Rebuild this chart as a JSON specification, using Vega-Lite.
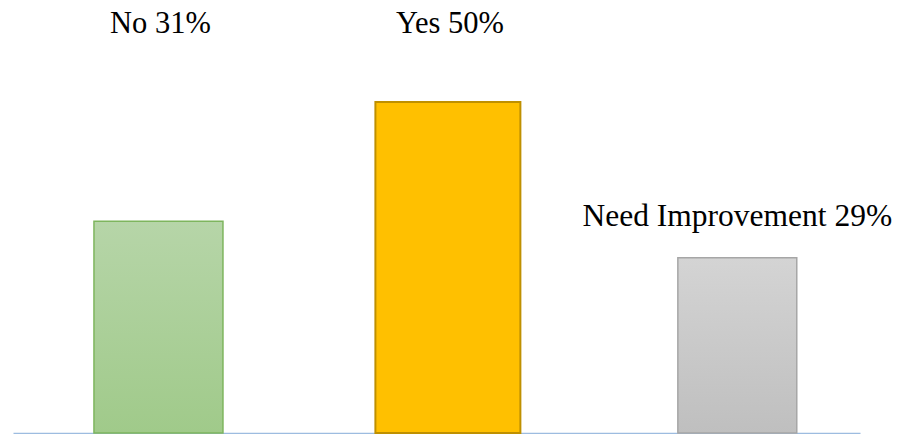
{
  "$schema": "https://vega.github.io/schema/vega-lite/v6.json",
  "autosize": {"type": "none"},
  "width": 847,
  "height": 433,
  "padding": {"left": 13, "top": 0, "right": 41, "bottom": 1},
  "background": "white",
  "config": {"view": {"stroke": null}},
  "data": {
    "values": [
      {"answer": "No", "value": 31.8, "label": "No 31%"},
      {"answer": "Yes", "value": 49.7, "label": "Yes 50%"},
      {"answer": "Need Improvement", "value": 26.3, "label": "Need Improvement 29%"}
    ]
  },
  "encoding": {
    "x": {
      "field": "answer",
      "type": "nominal",
      "sort": ["No", "Yes", "Need Improvement"],
      "scale": {"paddingInner": 0.5475, "paddingOuter": 0.237, "align": 0.583},
      "axis": {"labels": false, "ticks": false, "title": null, "grid": false, "domainColor": "#9DBCE0", "domainWidth": 1.5}
    }
  },
  "layer": [
    {
      "transform": [{"filter": "datum.answer === 'No'"}],
      "mark": {
        "type": "bar",
        "width": {"band": 0.985},
        "fill": {"gradient": "linear", "x1": 0, "y1": 0, "x2": 0, "y2": 1,
          "stops": [{"offset": 0, "color": "#B6D5A8"}, {"offset": 1, "color": "#A0CA8A"}]},
        "stroke": "#7EB55E",
        "strokeWidth": 1.5
      },
      "encoding": {
        "y": {"field": "value", "type": "quantitative", "scale": {"domain": [0, 65], "nice": false, "zero": true}, "axis": null}
      }
    },
    {
      "transform": [{"filter": "datum.answer === 'Yes'"}],
      "mark": {
        "type": "bar",
        "width": {"band": 1.107},
        "fill": "#FFC000",
        "stroke": "#BF9000",
        "strokeWidth": 2
      },
      "encoding": {
        "y": {"field": "value", "type": "quantitative"}
      }
    },
    {
      "transform": [{"filter": "datum.answer === 'Need Improvement'"}],
      "mark": {
        "type": "bar",
        "width": {"band": 0.908},
        "fill": {"gradient": "linear", "x1": 0, "y1": 0, "x2": 0, "y2": 1,
          "stops": [{"offset": 0, "color": "#D4D4D4"}, {"offset": 1, "color": "#BFBFBF"}]},
        "stroke": "#A6A6A6",
        "strokeWidth": 1.5
      },
      "encoding": {
        "y": {"field": "value", "type": "quantitative"}
      }
    },
    {
      "transform": [{"filter": "datum.answer !== 'Need Improvement'"}],
      "mark": {"type": "text", "font": "'Liberation Serif', 'Times New Roman', serif", "fontSize": 30.5, "color": "#000000", "baseline": "alphabetic", "align": "center", "dx": 2},
      "encoding": {
        "y": {"datum": 60.0, "type": "quantitative"},
        "text": {"field": "label"}
      }
    },
    {
      "transform": [{"filter": "datum.answer === 'Need Improvement'"}],
      "mark": {"type": "text", "font": "'Liberation Serif', 'Times New Roman', serif", "fontSize": 31.5, "color": "#000000", "baseline": "alphabetic", "align": "center", "dy": -32},
      "encoding": {
        "y": {"field": "value", "type": "quantitative"},
        "text": {"field": "label"}
      }
    }
  ]
}
